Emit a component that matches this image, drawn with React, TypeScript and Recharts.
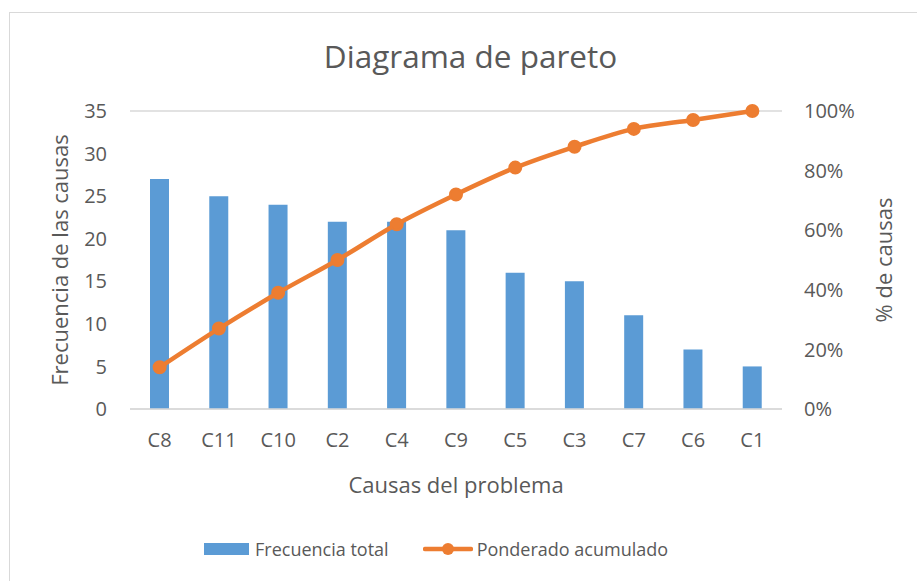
import { ComposedChart, Bar, Line, XAxis, YAxis, CartesianGrid } from "recharts";

const causes = ["C8", "C11", "C10", "C2", "C4", "C9", "C5", "C3", "C7", "C6", "C1"];
const frecuencia = [27, 25, 24, 22, 22, 21, 16, 15, 11, 7, 5];
const acumulado = [0.14, 0.27, 0.39, 0.5, 0.62, 0.72, 0.81, 0.88, 0.94, 0.97, 1.0];
const leftTicks = [0, 5, 10, 15, 20, 25, 30, 35];
const rightTicks = [0, 0.2, 0.4, 0.6, 0.8, 1.0];

const FONT = "'Open Sans', sans-serif";
const GRAY = "#595959";
const BLUE = "#5B9BD5";
const ORANGE = "#ED7D31";

const data = causes.map((c, i) => ({
  causa: c,
  frecuencia: frecuencia[i],
  acumulado: acumulado[i],
}));

export default function App() {
  return (
    <div
      style={{
        position: "absolute",
        left: 0,
        top: 0,
        width: 917,
        height: 581,
        overflow: "hidden",
        background: "#fff",
        fontFamily: FONT,
      }}
    >
      <div
        style={{
          position: "absolute",
          left: 9,
          top: 12,
          width: 1000,
          height: 1000,
          border: "1.5px solid #d9d9d9",
        }}
      />
      <div
        style={{
          position: "absolute",
          left: 24,
          width: 893,
          top: 36,
          textAlign: "center",
          fontSize: 31.5,
          color: GRAY,
          lineHeight: "40px",
        }}
      >
        Diagrama de pareto
      </div>
      <div style={{ position: "absolute", left: 0, top: 0 }}>
        <ComposedChart
          width={917}
          height={581}
          data={data}
          margin={{ top: 111, right: 0, left: 0, bottom: 82 }}
        >
          <CartesianGrid vertical={false} stroke="#d9d9d9" strokeWidth={1.5} />
          <XAxis
            dataKey="causa"
            height={90}
            tickLine={false}
            tickSize={0}
            tickMargin={24}
            axisLine={{ stroke: "#d9d9d9", strokeWidth: 1.5 }}
            tick={{ fill: GRAY, fontSize: 20, fontFamily: FONT }}
            interval={0}
            label={{
              value: "Causas del problema",
              position: "insideBottom",
              offset: 6,
              fill: GRAY,
              fontSize: 22,
              fontFamily: FONT,
            }}
          />
          <YAxis
            yAxisId="left"
            width={130}
            domain={[0, 35]}
            ticks={leftTicks}
            tickLine={false}
            axisLine={false}
            tickSize={0}
            tickMargin={23}
            tick={{ fill: GRAY, fontSize: 20, fontFamily: FONT }}
            label={{
              value: "Frecuencia de las causas",
              angle: -90,
              position: "insideLeft",
              offset: 60,
              style: { textAnchor: "middle" },
              fill: GRAY,
              fontSize: 22,
              fontFamily: FONT,
            }}
          />
          <YAxis
            yAxisId="right"
            orientation="right"
            width={135}
            domain={[0, 1]}
            ticks={rightTicks}
            tickLine={false}
            axisLine={false}
            tickSize={0}
            tickMargin={22}
            tickFormatter={(v: number) => `${Math.round(v * 100)}%`}
            tick={{ fill: GRAY, fontSize: 20, fontFamily: FONT, textAnchor: "start" }}
            label={{
              value: "% de causas",
              angle: -90,
              position: "insideRight",
              offset: 33,
              style: { textAnchor: "middle" },
              fill: GRAY,
              fontSize: 22,
              fontFamily: FONT,
            }}
          />
          <Bar
            yAxisId="left"
            dataKey="frecuencia"
            name="Frecuencia total"
            fill={BLUE}
            barSize={19}
            isAnimationActive={false}
          />
          <Line
            yAxisId="right"
            type="monotone"
            dataKey="acumulado"
            name="Ponderado acumulado"
            stroke={ORANGE}
            strokeWidth={4.5}
            dot={{ r: 6, fill: ORANGE, stroke: ORANGE, strokeWidth: 2 }}
            isAnimationActive={false}
          />
        </ComposedChart>
      </div>
      <div
        style={{
          position: "absolute",
          top: 535,
          left: 204,
          height: 28,
          display: "flex",
          alignItems: "center",
          fontSize: 18,
          color: GRAY,
          whiteSpace: "nowrap",
        }}
      >
        <span style={{ display: "inline-block", width: 45, height: 12, background: BLUE, marginRight: 6 }} />
        <span>Frecuencia total</span>
        <svg width={50} height={16} style={{ marginLeft: 34, marginRight: 4 }}>
          <line x1={2} y1={8} x2={48} y2={8} stroke={ORANGE} strokeWidth={4.5} strokeLinecap="round" />
          <circle cx={25} cy={8} r={6} fill={ORANGE} />
        </svg>
        <span>Ponderado acumulado</span>
      </div>
    </div>
  );
}
